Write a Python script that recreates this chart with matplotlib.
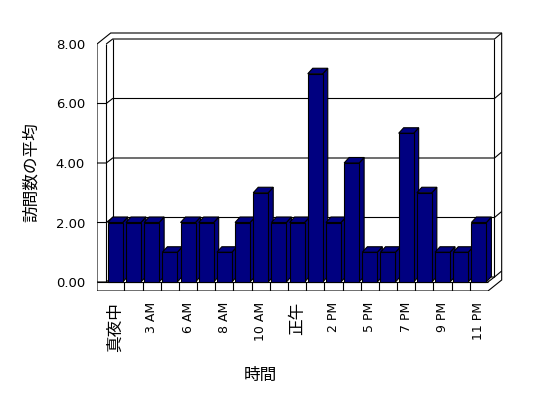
import matplotlib
matplotlib.use("Agg")
import matplotlib.pyplot as plt
from matplotlib.patches import Polygon

plt.rcParams['font.family'] = ['DejaVu Sans', 'Noto Sans CJK JP']

# data
hours = ["真夜中", "1 AM", "3 AM", "4 AM", "6 AM", "7 AM", "8 AM", "9 AM", "10 AM", "11 AM",
         "正午", "1 PM", "2 PM", "4 PM", "5 PM", "6 PM", "7 PM", "8 PM", "9 PM", "10 PM", "11 PM"]
visits = [2, 2, 2, 1, 2, 2, 1, 2, 3, 2, 2, 7, 2, 4, 1, 1, 5, 3, 1, 1, 2]
y_ticks = [0, 2, 4, 6, 8]

W, H = 548, 398
NAVY = "#000080"

# pixel geometry of the excel-like 3d frame
CAT_LEFT, CAT_W = 106.2, 18.18
BASE, UNIT = 282.0, 29.75


def px2x(px):
    return (px - CAT_LEFT) / CAT_W - 0.5


def py2v(py):
    return (BASE - py) / UNIT


fig = plt.figure(figsize=(W / 100, H / 100), dpi=100)
ax_l, ax_r, ax_t, ax_b = 97, 512, 28, 291
ax = fig.add_axes([ax_l / W, 1 - ax_b / H, (ax_r - ax_l) / W, (ax_b - ax_t) / H])
ax.set_xlim(px2x(ax_l), px2x(ax_r))
ax.set_ylim(py2v(ax_b), py2v(ax_t))
for s in ax.spines.values():
    s.set_visible(False)

n = len(visits)
xa, xb = -0.5, n - 0.5
top = y_ticks[-1]
t = 9.2 / CAT_W            # wall thickness
fl = 9.0 / UNIT            # floor thickness
dix, diy = 6.5 / CAT_W, 5.0 / UNIT     # front -> back wall
dox, doy = 13.7 / CAT_W, 11.0 / UNIT   # front -> back of wall
dbx, dby = 5.0 / CAT_W, 5.5 / UNIT     # bar depth
lw = 0.8

# outer silhouette of walls + floor
sil = [(xa - t, top), (xa - t + dox, top + doy), (xb + dox, top + doy),
       (xb + dox, -fl + doy), (xb, -fl), (xa - t, -fl)]
ax.add_patch(Polygon(sil, closed=True, fc="white", ec="black", lw=lw, zorder=1))

def line(pts, z=1.5):
    xs, ys = zip(*pts)
    ax.plot(xs, ys, color="black", lw=lw, zorder=z, solid_capstyle="butt")

# walls inner edges
line([(xa, -0.0), (xa, top)])
line([(xa, top), (xa + dix, top + diy), (xb + dix, top + diy), (xb + dox, top + doy)])
line([(xa + dix, diy), (xa + dix, top + diy)])
line([(xb + dix, diy), (xb + dix, top + diy)])
line([(xb, 0), (xb + dix, diy)])
# floor front face
line([(xa - t, 0), (xb, 0)])
for k in range(1, n):
    line([(xa + k, 0), (xa + k, -fl)])

# gridlines
for v in y_ticks[:-1]:
    line([(xa - t, v), (xa, v), (xa + dix, v + diy), (xb + dix, v + diy), (xb + dox, v + doy)])

# bars
bw = 15.0 / CAT_W
bars = ax.bar(range(n), visits, width=bw, color=NAVY, edgecolor="black", linewidth=lw)
for i, (b, v) in enumerate(zip(bars, visits)):
    z = 3 + i * 0.01
    x0, x1 = i - bw / 2, i + bw / 2
    side = [(x1, 0), (x1 + dbx, dby), (x1 + dbx, v + dby), (x1, v)]
    cap = [(x0, v), (x0 + dbx, v + dby), (x1 + dbx, v + dby), (x1, v)]
    ax.add_patch(Polygon(side, closed=True, fc=NAVY, ec="black", lw=lw, zorder=z))
    ax.add_patch(Polygon(cap, closed=True, fc=NAVY, ec="black", lw=lw, zorder=z))
    b.set_zorder(z + 0.005)

ax.set_yticks(y_ticks)
ax.set_yticklabels([f"{v:.2f}" for v in y_ticks], fontsize=9.5)
ax.tick_params(axis="y", length=0, pad=8.6)
ax.set_xticks(range(0, n, 2))
ax.set_xticklabels(hours[::2], rotation=90)
ax.tick_params(axis="x", length=0, pad=7.8)
for lab in ax.get_xticklabels():
    if lab.get_text() in ("真夜中", "正午"):
        lab.set_fontsize(12)
    else:
        lab.set_fontsize(9)

fig.text(31 / W, 1 - 172 / H, "訪問数の平均", rotation=90, ha="center", va="center", fontsize=12)
fig.text(260 / W, 1 - 375 / H, "時間", ha="center", va="center", fontsize=12)

fig.savefig("out.png", dpi=100, facecolor="white")
